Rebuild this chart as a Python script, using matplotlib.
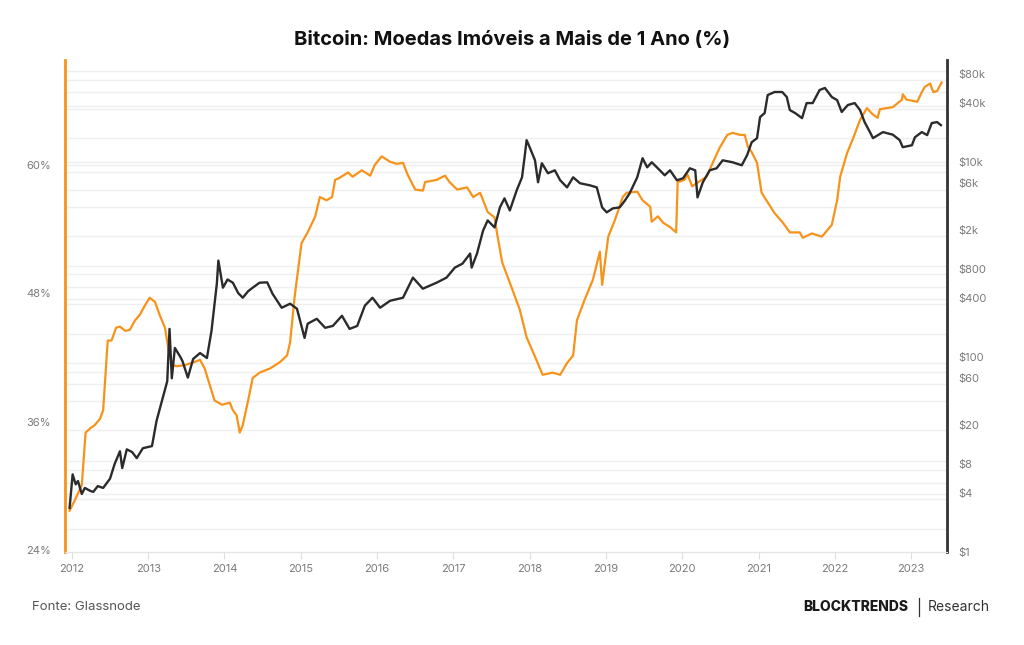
import matplotlib
matplotlib.use("Agg")
import matplotlib.pyplot as plt
from matplotlib.ticker import FixedLocator, NullLocator
from matplotlib.transforms import blended_transform_factory

ORANGE, INK, GREY, GRID = "#F7931A", "#2B2B2B", "#7A7A7A", "#EFEFEF"
plt.rcParams.update({"font.family": ["Inter", "DejaVu Sans"], "font.size": 8})

# --- % of supply last active 1+ year ago (left axis) -------------------------
hodl_year = [2011.97, 2012.04, 2012.13, 2012.18, 2012.24, 2012.30, 2012.37, 2012.41,
             2012.47, 2012.52, 2012.58, 2012.63, 2012.70, 2012.76, 2012.83, 2012.89,
             2012.96, 2013.02, 2013.09, 2013.15, 2013.22, 2013.28, 2013.32, 2013.38,
             2013.48, 2013.61, 2013.68, 2013.74, 2013.81, 2013.87, 2013.97, 2014.07,
             2014.11, 2014.16, 2014.20, 2014.24, 2014.31, 2014.37, 2014.46, 2014.60,
             2014.73, 2014.82, 2014.86, 2014.92, 2015.01, 2015.09, 2015.19, 2015.25,
             2015.34, 2015.41, 2015.45, 2015.51, 2015.62, 2015.68, 2015.80, 2015.91,
             2015.97, 2016.06, 2016.17, 2016.26, 2016.34, 2016.40, 2016.50, 2016.60,
             2016.63, 2016.78, 2016.89, 2016.95, 2017.05, 2017.18, 2017.26, 2017.35,
             2017.39, 2017.45, 2017.54, 2017.58, 2017.64, 2017.74, 2017.87, 2017.96,
             2018.07, 2018.17, 2018.30, 2018.40, 2018.49, 2018.57, 2018.62, 2018.72,
             2018.83, 2018.92, 2018.95, 2019.03, 2019.12, 2019.22, 2019.27, 2019.41,
             2019.48, 2019.58, 2019.60, 2019.68, 2019.75, 2019.84, 2019.92, 2019.94,
             2020.03, 2020.07, 2020.13, 2020.19, 2020.32, 2020.40, 2020.49, 2020.59,
             2020.66, 2020.76, 2020.82, 2020.86, 2020.91, 2020.98, 2021.04, 2021.12,
             2021.21, 2021.32, 2021.41, 2021.54, 2021.58, 2021.70, 2021.83, 2021.90,
             2021.96, 2022.03, 2022.07, 2022.16, 2022.24, 2022.33, 2022.42, 2022.50,
             2022.56, 2022.59, 2022.76, 2022.88, 2022.89, 2022.94, 2023.08, 2023.14,
             2023.18, 2023.25, 2023.29, 2023.34, 2023.40]
hodl_pct = [27.7, 28.7, 30.1, 35.0, 35.4, 35.7, 36.3, 37.1,
            43.6, 43.6, 44.8, 44.9, 44.5, 44.6, 45.5, 46.0,
            46.9, 47.6, 47.2, 46.0, 44.8, 42.2, 41.3, 41.2,
            41.3, 41.6, 41.8, 41.0, 39.4, 38.0, 37.6, 37.8,
            37.1, 36.6, 35.0, 35.7, 38.0, 40.1, 40.6, 41.0,
            41.6, 42.2, 43.4, 47.7, 52.7, 53.7, 55.2, 57.0,
            56.7, 57.0, 58.6, 58.8, 59.3, 58.9, 59.5, 59.0,
            60.0, 60.8, 60.3, 60.1, 60.2, 59.1, 57.7, 57.6,
            58.4, 58.6, 59.0, 58.4, 57.7, 57.9, 57.0, 57.4,
            56.7, 55.6, 55.1, 53.3, 50.9, 49.0, 46.5, 43.9,
            42.1, 40.4, 40.6, 40.4, 41.5, 42.2, 45.5, 47.4,
            49.3, 51.9, 48.8, 53.3, 54.9, 57.0, 57.4, 57.5,
            56.7, 56.1, 54.7, 55.2, 54.6, 54.2, 53.7, 58.4,
            58.6, 59.1, 58.0, 58.3, 58.9, 60.2, 61.6, 62.8,
            63.0, 62.8, 62.8, 61.7, 61.2, 60.2, 57.4, 56.5,
            55.5, 54.6, 53.7, 53.7, 53.2, 53.6, 53.3, 53.9,
            54.4, 56.7, 58.9, 61.1, 62.5, 64.2, 65.3, 64.7,
            64.4, 65.2, 65.4, 66.1, 66.6, 66.1, 65.9, 66.8,
            67.3, 67.6, 66.8, 66.9, 67.7]

# --- BTC price, USD (right axis, log) -----------------------------------------
price_year = [2011.97, 2012.01, 2012.05, 2012.08, 2012.13, 2012.17, 2012.24, 2012.28,
              2012.34, 2012.41, 2012.50, 2012.56, 2012.63, 2012.66, 2012.72, 2012.79,
              2012.85, 2012.93, 2013.05, 2013.11, 2013.18, 2013.25, 2013.28, 2013.31,
              2013.35, 2013.42, 2013.45, 2013.52, 2013.59, 2013.68, 2013.77, 2013.83,
              2013.90, 2013.92, 2013.95, 2013.98, 2014.04, 2014.11, 2014.18, 2014.24,
              2014.31, 2014.37, 2014.46, 2014.56, 2014.63, 2014.75, 2014.86, 2014.95,
              2015.05, 2015.09, 2015.21, 2015.32, 2015.42, 2015.54, 2015.64, 2015.74,
              2015.84, 2015.94, 2016.04, 2016.17, 2016.34, 2016.47, 2016.60, 2016.78,
              2016.91, 2017.02, 2017.12, 2017.22, 2017.24, 2017.31, 2017.39, 2017.45,
              2017.54, 2017.61, 2017.67, 2017.74, 2017.83, 2017.90, 2017.94, 2017.96,
              2018.00, 2018.07, 2018.11, 2018.16, 2018.24, 2018.33, 2018.40, 2018.49,
              2018.57, 2018.66, 2018.79, 2018.88, 2018.95, 2019.01, 2019.09, 2019.18,
              2019.25, 2019.31, 2019.41, 2019.48, 2019.54, 2019.60, 2019.68, 2019.77,
              2019.84, 2019.93, 2020.01, 2020.10, 2020.17, 2020.20, 2020.27, 2020.36,
              2020.45, 2020.53, 2020.66, 2020.78, 2020.85, 2020.91, 2020.98, 2021.02,
              2021.08, 2021.12, 2021.21, 2021.31, 2021.37, 2021.41, 2021.48, 2021.57,
              2021.63, 2021.71, 2021.80, 2021.87, 2021.96, 2022.03, 2022.09, 2022.17,
              2022.26, 2022.33, 2022.39, 2022.46, 2022.50, 2022.63, 2022.76, 2022.85,
              2022.89, 2023.01, 2023.05, 2023.14, 2023.21, 2023.27, 2023.34, 2023.39]
price_usd = [2.8, 6.2, 4.9, 5.3, 3.9, 4.5, 4.2, 4.1,
             4.7, 4.5, 5.6, 7.9, 10.7, 7.2, 11.2, 10.5,
             9.1, 11.5, 12.1, 22, 35, 56, 193, 60,
             123, 100, 90, 61, 95, 109, 97, 184,
             562, 970, 700, 511, 620, 575, 450, 403,
             470, 511, 575, 580, 443, 318, 350, 311,
             156, 218, 245, 198, 207, 263, 193, 207,
             334, 403, 318, 375, 403, 648, 499, 575,
             648, 822, 903, 1145, 822, 1145, 1976, 2504,
             2123, 3408, 4217, 3170, 5100, 6940, 12270, 16700,
             14140, 10370, 6170, 9680, 7640, 8190, 6470, 5470,
             6940, 6030, 5740, 5470, 3408, 3030, 3330, 3408,
             4020, 4750, 6940, 10900, 8790, 9900, 8590, 7280,
             8190, 6470, 6780, 8590, 8190, 4320, 6170, 8190,
             8590, 10370, 9900, 9220, 11700, 15900, 17500, 28800,
             31650, 48500, 52100, 52100, 46300, 34000, 31650, 28100,
             40100, 40100, 54600, 57300, 46300, 43000, 32500, 38300,
             40100, 34000, 25600, 20200, 17500, 20200, 19000, 16700,
             14140, 14800, 17900, 20200, 18800, 25000, 25600, 23800]

years = list(range(2012, 2024))
pct_ticks = [24, 36, 48, 60]
usd_ticks = [1, 4, 8, 20, 60, 100, 400, 800, 2000, 6000, 10000, 40000, 80000]
usd_labels = ["$1", "$4", "$8", "$20", "$60", "$100", "$400", "$800",
              "$2k", "$6k", "$10k", "$40k", "$80k"]
grid_usd = [1.7, 3.5, 3.9, 5.0, 6.8, 8.6, 17.6, 35, 52, 70, 86, 172, 350, 390, 520,
            700, 860, 1750, 3400, 5200, 7900, 9200, 9900, 17500, 35000, 37600,
            52000, 70000, 86000]

fig = plt.figure(figsize=(10.24, 6.45), dpi=100)
ax = fig.add_axes([65 / 1024, 1 - 552 / 645, 882 / 1024, 492 / 645])
ax2 = ax.twinx()

ax.set_xlim(2011.91, 2023.47)
ax.set_ylim(23.85, 69.8)
ax2.set_yscale("log")
ax2.set_ylim(0.99, 111000)

# faint grid in price units, drawn on the lower axes so no line gets covered
grid_tr = blended_transform_factory(ax.transAxes, ax2.transData)
for g in grid_usd:
    ax.plot([0, 1], [g, g], transform=grid_tr, color=GRID, lw=1.0, zorder=0)

ax.plot(hodl_year, hodl_pct, color=ORANGE, lw=1.6, solid_joinstyle="round", zorder=2)
ax2.plot(price_year, price_usd, color=INK, lw=1.7, solid_joinstyle="round", zorder=3)
ax.set_zorder(0); ax2.set_zorder(1); ax2.patch.set_visible(False)

ax.set_xticks(years)
ax.set_xticklabels([str(y) for y in years], color=GREY, fontsize=8)
ax.tick_params(axis="x", length=5, color="#DDDDDD", pad=4)
ax.set_yticks(pct_ticks)
ax.set_yticklabels([f"{t}%" for t in pct_ticks], color=GREY, fontsize=8)
ax.tick_params(axis="y", length=0, pad=10)

ax2.yaxis.set_major_locator(FixedLocator(usd_ticks))
ax2.yaxis.set_minor_locator(NullLocator())
ax2.set_yticklabels(usd_labels, color=GREY, fontsize=8)
ax2.tick_params(axis="y", length=0, pad=8)

for a in (ax, ax2):
    a.spines["top"].set_visible(False)
    a.spines["bottom"].set_color("#E4E4E4")
ax.spines["left"].set_color(ORANGE); ax.spines["left"].set_linewidth(2)
ax.spines["right"].set_visible(False)
ax2.spines["left"].set_visible(False)
ax2.spines["right"].set_color("#333333"); ax2.spines["right"].set_linewidth(2)

fig.text(0.5, 1 - 40 / 645, "Bitcoin: Moedas Imóveis a Mais de 1 Ano (%)",
         ha="center", va="center", fontsize=14.5, fontweight="bold", color="#111111")
fig.text(32 / 1024, 1 - 607 / 645, "Fonte: Glassnode", ha="left", va="center",
         fontsize=9.5, color="#555555")
fig.text(908 / 1024, 1 - 607 / 645, "BLOCKTRENDS", ha="right", va="center",
         fontsize=10, fontweight="heavy", color="#1A1A1A")
fig.add_artist(plt.Line2D([919 / 1024, 919 / 1024], [1 - 598 / 645, 1 - 616 / 645],
                          color="#333333", lw=0.9))
fig.text(928 / 1024, 1 - 607 / 645, "Research", ha="left", va="center",
         fontsize=10, color="#333333")

fig.savefig("out.png", dpi=100)
